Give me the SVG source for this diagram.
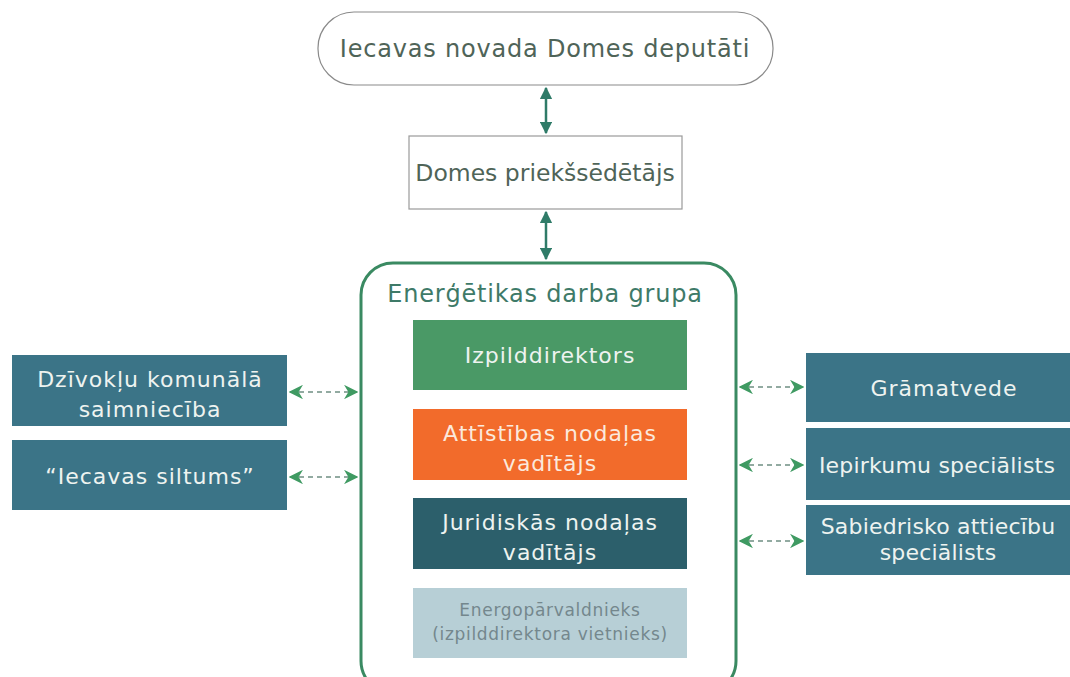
<svg xmlns="http://www.w3.org/2000/svg" width="1070" height="677" viewBox="0 0 1070 677">
<defs>
<style>
text{font-family:"DejaVu Sans","Liberation Sans",sans-serif;text-anchor:middle}
.lt{fill:#4f6458;font-size:24px;letter-spacing:0.8px}
.wt{fill:#eef3f0;font-size:22px;letter-spacing:1px}
.box{fill:#3b7487}
.solid{stroke:#2f7b68;stroke-width:2.5;fill:none}
.dash{stroke:#6f8f82;stroke-width:1.6;stroke-dasharray:5 4;fill:none}
</style>
<marker id="ah" viewBox="0 0 10 10" refX="9" refY="5" markerWidth="5" markerHeight="5" orient="auto-start-reverse" markerUnits="strokeWidth">
<path d="M0,0 L10,5 L0,10 z" fill="#2f7b68"/>
</marker>
<marker id="ag" viewBox="0 0 10 10" refX="9" refY="5" markerWidth="9" markerHeight="9" orient="auto-start-reverse" markerUnits="strokeWidth">
<path d="M0,0 L10,5 L0,10 L3,5 z" fill="#3f9a62"/>
</marker>
</defs>
<rect width="1070" height="677" fill="#ffffff"/>
<g id="deputati">
<rect x="318" y="12" width="455" height="73" rx="36" fill="#fff" stroke="#8a8a8a" stroke-width="1.2"/>
<text class="lt" x="545" y="57">Iecavas novada Domes deputāti</text>
</g>
<g id="priekssedetajs">
<rect x="409" y="136" width="273" height="73" fill="#fff" stroke="#9a9a9a" stroke-width="1.2"/>
<text class="lt" x="545" y="181" style="letter-spacing:0;font-size:23.5px">Domes priekšsēdētājs</text>
</g>
<g id="darba-grupa">
<rect x="361" y="263" width="375" height="430" rx="32" fill="#fff" stroke="#3a8a62" stroke-width="3"/>
<text x="545" y="302" style="fill:#3e7a68;font-size:24px;letter-spacing:0.8px">Enerģētikas darba grupa</text>
</g>
<g id="izpilddirektors">
<rect x="413" y="320" width="274" height="70" fill="#4a9966"/>
<text class="wt" x="550" y="363">Izpilddirektors</text>
</g>
<g id="attistibas">
<rect x="413" y="409" width="274" height="71" fill="#f26b2b"/>
<text class="wt" x="550" y="441" style="fill:#fbe9dc">Attīstības nodaļas</text>
<text class="wt" x="550" y="471" style="fill:#fbe9dc">vadītājs</text>
</g>
<g id="juridiskas">
<rect x="413" y="498" width="274" height="71" fill="#2c5f6b"/>
<text class="wt" x="550" y="530">Juridiskās nodaļas</text>
<text class="wt" x="550" y="560">vadītājs</text>
</g>
<g id="energoparvaldnieks">
<rect x="413" y="588" width="274" height="70" fill="#b7cfd6"/>
<text x="550" y="616" style="fill:#74878d;font-size:17px;letter-spacing:0.7px">Energopārvaldnieks</text>
<text x="550" y="640" style="fill:#74878d;font-size:17px;letter-spacing:0.7px">(izpilddirektora vietnieks)</text>
</g>
<g id="dzivoklu">
<rect x="12" y="355" width="275" height="71" class="box"/>
<text class="wt" x="150" y="387">Dzīvokļu komunālā</text>
<text class="wt" x="150" y="417">saimniecība</text>
</g>
<g id="siltums">
<rect x="12" y="440" width="275" height="70" class="box"/>
<text class="wt" x="150" y="484">“Iecavas siltums”</text>
</g>
<g id="gramatvede">
<rect x="806" y="353" width="270" height="69" class="box"/>
<text class="wt" x="944" y="396">Grāmatvede</text>
</g>
<g id="iepirkumu">
<rect x="806" y="428" width="270" height="72" class="box"/>
<text class="wt" x="937" y="473" style="letter-spacing:0.2px">Iepirkumu speciālists</text>
</g>
<g id="sabiedrisko">
<rect x="806" y="505" width="270" height="70" class="box"/>
<text class="wt" x="938" y="534" style="letter-spacing:0.2px">Sabiedrisko attiecību</text>
<text class="wt" x="938" y="560" style="letter-spacing:0.2px">speciālists</text>
</g>
<g id="connectors">
<line class="solid" x1="546" y1="88" x2="546" y2="133" marker-start="url(#ah)" marker-end="url(#ah)"/>
<line class="solid" x1="546" y1="212" x2="546" y2="259" marker-start="url(#ah)" marker-end="url(#ah)"/>
<line class="dash" x1="290" y1="392" x2="357" y2="392" marker-start="url(#ag)" marker-end="url(#ag)"/>
<line class="dash" x1="290" y1="477" x2="357" y2="477" marker-start="url(#ag)" marker-end="url(#ag)"/>
<line class="dash" x1="740" y1="387" x2="803" y2="387" marker-start="url(#ag)" marker-end="url(#ag)"/>
<line class="dash" x1="740" y1="465" x2="803" y2="465" marker-start="url(#ag)" marker-end="url(#ag)"/>
<line class="dash" x1="740" y1="541" x2="803" y2="541" marker-start="url(#ag)" marker-end="url(#ag)"/>
</g>
</svg>
